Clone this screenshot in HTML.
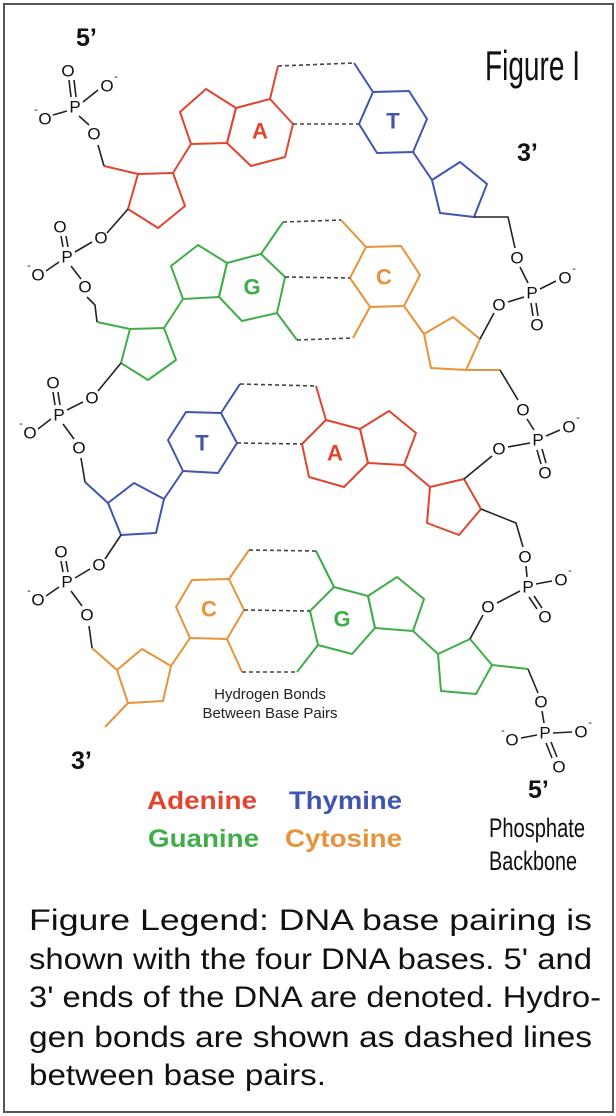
<!DOCTYPE html>
<html><head><meta charset="utf-8"><style>
html,body{margin:0;padding:0;background:#fff;}
svg{display:block;}
.o{font-family:"Liberation Sans",sans-serif;font-size:17px;fill:#111;text-anchor:middle;dominant-baseline:central;}
.m{font-family:"Liberation Sans",sans-serif;font-size:11px;fill:#111;text-anchor:middle;}
.b{font-family:"Liberation Sans",sans-serif;font-weight:bold;text-anchor:middle;dominant-baseline:central;font-size:22px;}
.lg{font-family:"Liberation Sans",sans-serif;font-weight:bold;font-size:25px;}
.nar{font-family:"Liberation Sans",sans-serif;}
.tx{font-family:"Liberation Sans",sans-serif;font-size:30px;fill:#111;}
</style></head><body>
<div style="position:relative;width:616px;height:1116px;">
<svg width="616" height="1116" viewBox="0 0 616 1116">
<rect x="4" y="4" width="609" height="1108" fill="none" stroke="#555" stroke-width="2"/>
<g fill="none" stroke-width="2" stroke-linejoin="round">
<g stroke="#e0452f">
<polygon points="180,112 206,89 236,108 227,143 191,144"/>
<polygon points="236,108 270,99 293,124 285,157 251,166 227,143"/>
<polyline points="270,99 278,66"/>
<polygon points="138,174 173,173 185,206 158,228 128,209"/>
<polyline points="191,144 173,173"/>
<polyline points="138,174 104,166"/>
</g>
<g stroke="#3f55b0">
<polygon points="373,92 409,91 427,119 413,152 377,153 359,124"/>
<polyline points="354,63 373,92"/>
<polyline points="413,152 432,180"/>
<polygon points="432,180 460,162 487,184 474,217 440,213"/>
</g>
<g stroke="#3fae48">
<polygon points="130,329 164,328 176,360 148,380 121,363"/>
<polyline points="97,322 130,329"/>
<polyline points="164,328 183,299"/>
<polygon points="183,299 171,266 198,245 227,263 219,297"/>
<polygon points="227,263 261,254 285,277 277,313 242,321 219,297"/>
<polyline points="261,254 283,222"/>
<polyline points="277,313 297,340"/>
</g>
<g stroke="#e8923b">
<polygon points="366,247 401,246 420,275 404,306 370,307 350,278"/>
<polyline points="341,220 366,247"/>
<polyline points="353,338 370,307"/>
<polyline points="404,306 424,334"/>
<polygon points="424,334 453,317 480,339 466,370 431,368"/>
<polyline points="466,370 500,370"/>
</g>
<g stroke="#3f55b0">
<polyline points="85,482 108,503"/>
<polygon points="108,503 134,483 164,499 156,533 121,535"/>
<polyline points="164,499 183,471"/>
<polygon points="183,471 168,440 186,412 221,413 237,443 218,473"/>
<polyline points="221,413 240,384"/>
</g>
<g stroke="#e0452f">
<polyline points="316,386 326,420"/>
<polygon points="326,420 360,429 368,463 344,487 309,477 302,444"/>
<polygon points="360,429 389,411 416,433 404,465 368,463"/>
<polyline points="404,465 430,487"/>
<polygon points="430,487 464,479 481,509 459,535 427,523"/>
</g>
<g stroke="#e8923b">
<polyline points="92,648 117,670"/>
<polygon points="117,670 142,649 171,666 163,701 128,703"/>
<polyline points="128,703 105,727"/>
<polyline points="171,666 190,638"/>
<polygon points="190,638 176,607 192,580 229,579 244,610 227,639"/>
<polyline points="229,579 249,550"/>
<polyline points="227,639 242,672"/>
</g>
<g stroke="#3fae48">
<polyline points="316,551 334,587"/>
<polygon points="334,587 368,596 375,628 352,654 318,645 310,611"/>
<polyline points="297,672 318,645"/>
<polygon points="368,596 397,577 424,599 413,631 375,628"/>
<polyline points="413,631 438,654"/>
<polygon points="438,654 470,639 492,665 476,694 441,691"/>
<polyline points="492,665 528,669"/>
</g>
<g stroke="#444" stroke-width="1.6" stroke-dasharray="4,3">
<line x1="278" y1="66" x2="354" y2="63"/>
<line x1="293" y1="124" x2="359" y2="124"/>
<line x1="283" y1="222" x2="341" y2="220"/>
<line x1="285" y1="277" x2="350" y2="278"/>
<line x1="297" y1="340" x2="353" y2="338"/>
<line x1="240" y1="384" x2="316" y2="386"/>
<line x1="237" y1="443" x2="302" y2="444"/>
<line x1="249" y1="550" x2="316" y2="551"/>
<line x1="244" y1="610" x2="310" y2="611"/>
<line x1="242" y1="672" x2="297" y2="672"/>
</g>
<g stroke="#222" stroke-width="1.6">
<polyline points="104,166 98,145"/>
<line x1="128" y1="209" x2="107" y2="233"/>
<polyline points="87,297 95,305 97,322"/>
<line x1="121" y1="363" x2="98" y2="391"/>
<polyline points="81,458 85,482"/>
<line x1="121" y1="535" x2="105" y2="559"/>
<polyline points="89,626 92,648"/>
<polyline points="474,217 508,217 515,248"/>
<line x1="480" y1="339" x2="494" y2="313"/>
<polyline points="500,370 518,400"/>
<line x1="464" y1="479" x2="492" y2="456"/>
<polyline points="481,509 516,523 523,547"/>
<line x1="470" y1="639" x2="483" y2="615"/>
<polyline points="528,669 538,693"/>
<line x1="71" y1="97" x2="69" y2="80"/><line x1="76" y1="97" x2="74" y2="80"/>
<line x1="83" y1="102" x2="98" y2="90"/><line x1="67" y1="111" x2="53" y2="115"/><line x1="79" y1="116" x2="89" y2="125"/>
<line x1="63" y1="247" x2="61" y2="236"/><line x1="68" y1="247" x2="66" y2="236"/>
<line x1="75" y1="252" x2="92" y2="242"/><line x1="59" y1="262" x2="46" y2="271"/><line x1="71" y1="266" x2="81" y2="279"/>
<line x1="55" y1="405" x2="53" y2="392"/><line x1="60" y1="405" x2="58" y2="392"/>
<line x1="67" y1="410" x2="83" y2="402"/><line x1="51" y1="419" x2="38" y2="429"/><line x1="63" y1="424" x2="74" y2="439"/>
<line x1="63" y1="572" x2="61" y2="561"/><line x1="68" y1="572" x2="66" y2="561"/>
<line x1="75" y1="578" x2="90" y2="569"/><line x1="59" y1="587" x2="46" y2="596"/><line x1="71" y1="591" x2="82" y2="606"/>
<line x1="528" y1="283" x2="520" y2="267"/><line x1="540" y1="289" x2="556" y2="281"/><line x1="524" y1="297" x2="508" y2="302"/>
<line x1="531" y1="303" x2="533" y2="316"/><line x1="536" y1="303" x2="538" y2="316"/>
<line x1="534" y1="430" x2="527" y2="419"/><line x1="546" y1="436" x2="560" y2="430"/><line x1="530" y1="443" x2="508" y2="447"/>
<line x1="537" y1="450" x2="541" y2="464"/><line x1="542" y1="449" x2="546" y2="463"/>
<line x1="527" y1="577" x2="526" y2="566"/><line x1="536" y1="584" x2="552" y2="581"/><line x1="520" y1="591" x2="497" y2="603"/>
<line x1="529" y1="597" x2="537" y2="609"/><line x1="534" y1="596" x2="542" y2="608"/>
<line x1="544" y1="723" x2="542" y2="711"/><line x1="553" y1="733" x2="572" y2="732"/><line x1="537" y1="735" x2="521" y2="738"/>
<line x1="546" y1="743" x2="552" y2="758"/><line x1="551" y1="742" x2="557" y2="757"/>
</g>
</g>
<g>
<text class="o" x="68" y="71">O</text><text class="o" x="75" y="107">P</text><text class="o" x="107" y="86">O</text><text class="m" x="116" y="80">-</text><text class="o" x="45" y="119">O</text><text class="m" x="36" y="113">-</text><text class="o" x="94" y="134">O</text>
<text class="o" x="60" y="227">O</text><text class="o" x="67" y="257">P</text><text class="o" x="101" y="238">O</text><text class="o" x="38" y="275">O</text><text class="m" x="29" y="269">-</text><text class="o" x="85" y="287">O</text>
<text class="o" x="53" y="383">O</text><text class="o" x="59" y="415">P</text><text class="o" x="92" y="398">O</text><text class="o" x="30" y="433">O</text><text class="m" x="21" y="427">-</text><text class="o" x="79" y="448">O</text>
<text class="o" x="61" y="552">O</text><text class="o" x="67" y="582">P</text><text class="o" x="99" y="565">O</text><text class="o" x="38" y="600">O</text><text class="m" x="29" y="594">-</text><text class="o" x="87" y="615">O</text>
<text class="o" x="517" y="258">O</text><text class="o" x="532" y="293">P</text><text class="o" x="565" y="278">O</text><text class="m" x="574" y="272">-</text><text class="o" x="499" y="305">O</text><text class="o" x="537" y="325">O</text>
<text class="o" x="523" y="410">O</text><text class="o" x="538" y="440">P</text><text class="o" x="569" y="427">O</text><text class="m" x="578" y="421">-</text><text class="o" x="499" y="449">O</text><text class="o" x="545" y="473">O</text>
<text class="o" x="525" y="557">O</text><text class="o" x="528" y="587">P</text><text class="o" x="561" y="580">O</text><text class="m" x="570" y="574">-</text><text class="o" x="488" y="607">O</text><text class="o" x="545" y="617">O</text>
<text class="o" x="541" y="702">O</text><text class="o" x="545" y="733">P</text><text class="o" x="581" y="732">O</text><text class="m" x="590" y="726">-</text><text class="o" x="512" y="740">O</text><text class="m" x="503" y="734">-</text><text class="o" x="559" y="767">O</text>
</g>
<text class="b" x="260" y="131" fill="#e0452f">A</text>
<text class="b" x="393" y="121" fill="#3f55b0">T</text>
<text class="b" x="252" y="287" fill="#3fae48">G</text>
<text class="b" x="384" y="277" fill="#e8923b">C</text>
<text class="b" x="202" y="443" fill="#3f55b0">T</text>
<text class="b" x="335" y="453" fill="#e0452f">A</text>
<text class="b" x="209" y="609" fill="#e8923b">C</text>
<text class="b" x="342" y="619" fill="#3fae48">G</text>
<text class="lg" x="76" y="46" font-size="22" fill="#111">5’</text>
<text class="lg" x="517" y="161" font-size="22" fill="#111">3’</text>
<text class="lg" x="71" y="769" font-size="22" fill="#111">3’</text>
<text class="lg" x="528" y="798" font-size="22" fill="#111">5’</text>
<text x="270" y="699" font-family="Liberation Sans,sans-serif" font-size="15" fill="#222" text-anchor="middle">Hydrogen Bonds</text>
<text x="270" y="718" font-family="Liberation Sans,sans-serif" font-size="15" fill="#222" text-anchor="middle">Between Base Pairs</text>
<text class="lg" x="147" y="809" fill="#e0452f" textLength="110" lengthAdjust="spacingAndGlyphs">Adenine</text>
<text class="lg" x="289" y="809" fill="#3f55b0" textLength="113" lengthAdjust="spacingAndGlyphs">Thymine</text>
<text class="lg" x="148" y="847" fill="#3fae48" textLength="111" lengthAdjust="spacingAndGlyphs">Guanine</text>
<text class="lg" x="285" y="847" fill="#e8923b" textLength="117" lengthAdjust="spacingAndGlyphs">Cytosine</text>
<text class="nar" x="489" y="837" font-size="27" fill="#111" textLength="96" lengthAdjust="spacingAndGlyphs">Phosphate</text>
<text class="nar" x="489" y="870" font-size="27" fill="#111" textLength="88" lengthAdjust="spacingAndGlyphs">Backbone</text>
<text class="nar" x="485" y="80" font-size="42" fill="#111" textLength="95" lengthAdjust="spacingAndGlyphs">Figure I</text>
<text class="tx" x="29" y="930" textLength="563" lengthAdjust="spacingAndGlyphs">Figure Legend: DNA base pairing is</text>
<text class="tx" x="29" y="969" textLength="563" lengthAdjust="spacingAndGlyphs">shown with the four DNA bases. 5' and</text>
<text class="tx" x="29" y="1007" textLength="572" lengthAdjust="spacingAndGlyphs">3' ends of the DNA are denoted. Hydro-</text>
<text class="tx" x="29" y="1047" textLength="563" lengthAdjust="spacingAndGlyphs">gen bonds are shown as dashed lines</text>
<text class="tx" x="29" y="1085" textLength="297" lengthAdjust="spacingAndGlyphs">between base pairs.</text>
</svg>
</div>
</body></html>
